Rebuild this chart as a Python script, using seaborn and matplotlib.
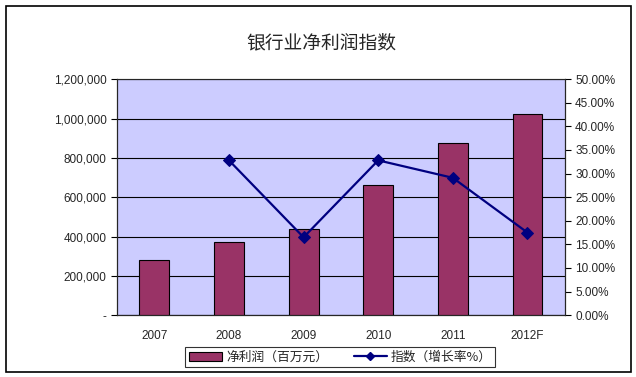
import matplotlib
matplotlib.use('Agg')
import matplotlib.pyplot as plt
import matplotlib.ticker as mticker
import seaborn as sns
import numpy as np
import pandas as pd

years = ['2007', '2008', '2009', '2010', '2011', '2012F']
net_profit = [278000, 370000, 436000, 664000, 873000, 1025000]
growth_years = ['2008', '2009', '2010', '2011', '2012F']
growth_rate = [0.328, 0.165, 0.328, 0.291, 0.175]

sns.set_style('white')
plt.rcParams['font.family'] = ['Liberation Sans', 'Noto Sans CJK SC', 'DejaVu Sans']
cjk = ['Noto Sans CJK SC', 'DejaVu Sans']

df_bar = pd.DataFrame({'year': years, 'profit': net_profit})
df_line = pd.DataFrame({'pos': [years.index(y) for y in growth_years], 'rate': growth_rate})

fig = plt.figure(figsize=(6.36, 3.77), dpi=100)
ax = fig.add_axes([0.184, 0.164, 0.704, 0.626])
ax.set_facecolor('#CCCCFF')

sns.barplot(data=df_bar, x='year', y='profit', color='#993366', saturation=1,
            width=0.4, edgecolor='black', linewidth=0.8, ax=ax, zorder=3)
ax.set_xlim(-0.5, 5.5)
ax.set_ylim(0, 1200000)
ax.yaxis.set_major_locator(mticker.MultipleLocator(200000))
ax.yaxis.set_major_formatter(mticker.FuncFormatter(lambda v, p: '-' if v == 0 else f'{int(v):,}'))
ax.grid(axis='y', color='black', linewidth=0.8, zorder=0)
ax.set_axisbelow(True)
ax.set_xlabel('')
ax.set_ylabel('')
ax.set_xticks(range(len(years)))
ax.set_xticklabels(years)
ax.xaxis.set_minor_locator(mticker.FixedLocator(np.arange(0.5, 5, 1)))
ax.tick_params(axis='x', which='major', length=0, pad=11, labelsize=8.5)
ax.tick_params(axis='x', which='minor', length=3, direction='in', color='black')
ax.tick_params(axis='y', length=4, direction='out', color='black', labelsize=8.5, left=True)
for s in ['left', 'bottom']:
    ax.spines[s].set_color('black')
    ax.spines[s].set_linewidth(0.8)
ax.spines['top'].set_color('#808080')
ax.spines['right'].set_color('black')

ax2 = ax.twinx()
sns.lineplot(data=df_line, x='pos', y='rate', color='#000080', marker='D',
             markersize=6, markeredgecolor='#000080', linewidth=1.6, ax=ax2)
ax2.set_ylim(0, 0.5)
ax2.yaxis.set_major_locator(mticker.MultipleLocator(0.05))
ax2.yaxis.set_major_formatter(mticker.FuncFormatter(lambda v, p: f'{v*100:.2f}%'))
ax2.tick_params(axis='y', length=4, direction='out', color='black', labelsize=8.5, right=True)
ax2.set_ylabel('')
ax2.set_xlabel('')
ax2.set_xlim(-0.5, 5.5)
ax2.grid(False)

fig.text(0.505, 0.886, '银行业净利润指数', ha='center', va='center', fontsize=13.5, family=cjk)

handles = [plt.Rectangle((0, 0), 1, 1, facecolor='#993366', edgecolor='black', linewidth=0.8),
           plt.Line2D([0], [0], color='#000080', marker='D', markersize=4, linewidth=1.6)]
leg = fig.legend(handles, ['净利润（百万元）', '指数（增长率%）'], loc='center',
                 bbox_to_anchor=(0.535, 0.053), ncol=2, frameon=True, fancybox=False,
                 edgecolor='black', prop={'family': cjk, 'size': 9.2},
                 handlelength=2.6, handleheight=0.7, columnspacing=2.0,
                 borderpad=0.3, handletextpad=0.3)
leg.get_frame().set_linewidth(0.8)

fig.patches.append(plt.Rectangle((0.0094, 0.0133), 0.983, 0.971, transform=fig.transFigure,
                                 fill=False, edgecolor='black', linewidth=1.2))

fig.savefig('out.png', dpi=100)
